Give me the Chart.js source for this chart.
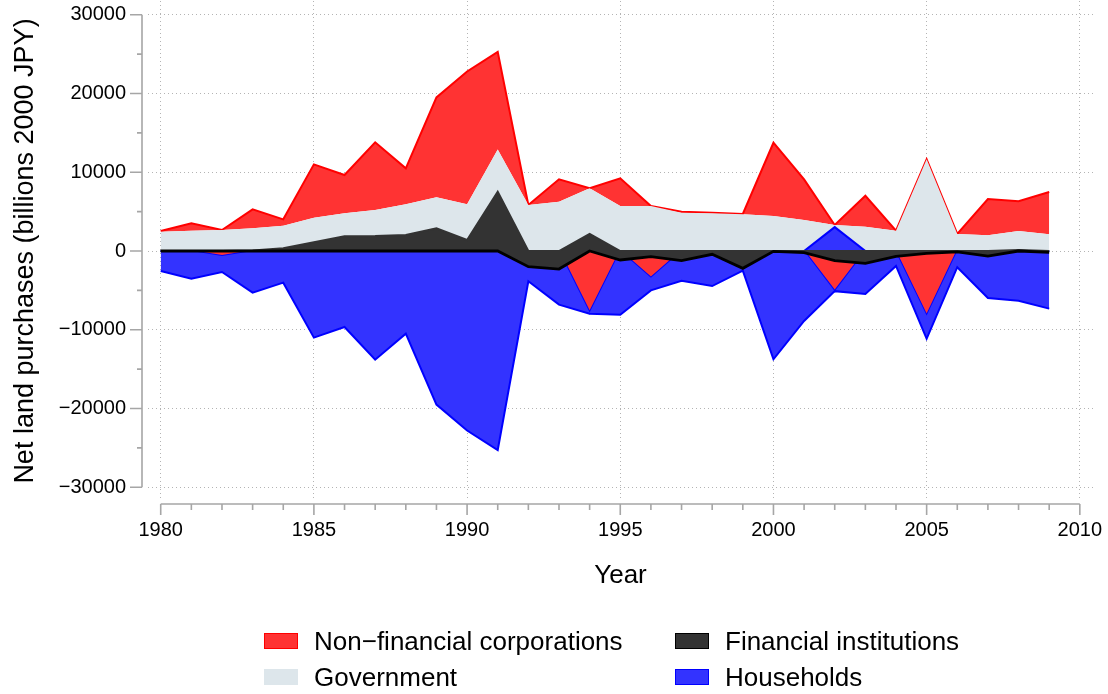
<!DOCTYPE html>
<html>
<head>
<meta charset="utf-8">
<title>Net land purchases</title>
<script src="https://cdn.jsdelivr.net/npm/chart.js@4.4.1/dist/chart.umd.min.js"></script>
<style>
  html, body { margin: 0; padding: 0; background: #fff; }
  #wrap { position: relative; width: 1108px; height: 694px; font-family: "Liberation Sans", Arial, Helvetica, sans-serif; }
  #chart { position: absolute; left: 0; top: 0; }
  .legend-item { position: absolute; display: flex; align-items: center; height: 30px; font-size: 26px; color: #000; white-space: nowrap; }
  .legend-box { box-sizing: border-box; width: 34px; height: 16px; margin-right: 16px; border: 1.5px solid; }
</style>
</head>
<body>
<div id="wrap">
  <canvas id="chart" width="1108" height="694"></canvas>
  <div id="legend"></div>
</div>
<script>
const YEARS = [
  1980, 1981, 1982, 1983, 1984, 1985, 1986, 1987, 1988, 1989,
  1990, 1991, 1992, 1993, 1994, 1995, 1996, 1997, 1998, 1999,
  2000, 2001, 2002, 2003, 2004, 2005, 2006, 2007, 2008, 2009,
];

// billions of 2000 JPY
const FINANCIAL = [
  0, 0, 0, 50, 340, 1100, 1860, 1900, 2030, 2880,
  1400, 7530, -1990, -2290, 2160, -1140, -720, -1230, -420, -2200,
  -50, -210, -1230, -1570, -680, -300, -100, -640, 130, -170,
];
const GOVERNMENT = [
  2450, 2580, 2670, 2830, 2870, 3130, 2930, 3310, 3900, 3940,
  4530, 5370, 5840, 6260, 5800, 5720, 5720, 4870, 4790, 4660,
  4450, 3940, 3300, 3090, 2580, 11650, 2160, 1990, 2410, 2120,
];
const NONFINANCIAL = [
  90, 940, -620, 2410, 810, 6770, 4860, 8590, 4570, 12680,
  16870, 12400, 0, 2840, -7800, 3510, -3400, 130, 80, 40,
  9300, 5160, -5100, 3930, -200, -8200, 0, 4610, 3770, 5370,
];
const HOUSEHOLDS = [
  -2540, -3520, -2050, -5290, -4020, -11000, -9650, -13800, -10500, -19500,
  -22800, -25300, -3850, -6810, -160, -8090, -1600, -3770, -4450, -2500,
  -13750, -8890, 3030, -5450, -1700, -2950, -2060, -5960, -6310, -7320,
];

const X_TICKS = [1980, 1985, 1990, 1995, 2000, 2005, 2010];
const Y_TICKS = [-30000, -20000, -10000, 0, 10000, 20000, 30000];

const COLORS = {
  nonfin: { fill: "#ff3333", line: "#ff0000" },
  gov: { fill: "#dde6eb", line: "#dde6eb" },
  fin: { fill: "#333333", line: "#000000" },
  hh: { fill: "#3333ff", line: "#0000ff" },
};

const LEGEND_ITEMS = [
  { label: "Non\u2212financial corporations", colors: COLORS.nonfin, left: 264, top: 626 },
  { label: "Financial institutions", colors: COLORS.fin, left: 675, top: 626 },
  { label: "Government", colors: COLORS.gov, left: 264, top: 662 },
  { label: "Households", colors: COLORS.hh, left: 675, top: 662 },
];

const FONT = '"Liberation Sans", Arial, Helvetica, sans-serif';
const AXIS_COLOR = "#a6a6a6";

// positive parts stack fin -> gov -> nonfin, negative parts stack nonfin -> households
const pos = (v) => Math.max(v, 0);
const neg = (v) => Math.min(v, 0);
const finPos = FINANCIAL.map(pos);
const finNeg = FINANCIAL.map(neg);
const govTop = GOVERNMENT.map((v, i) => finPos[i] + pos(v));
const nonfinTop = NONFINANCIAL.map((v, i) => govTop[i] + pos(v));
const nonfinNeg = NONFINANCIAL.map(neg);
const hhPos = HOUSEHOLDS.map(pos);
const hhBottom = HOUSEHOLDS.map((v, i) => nonfinNeg[i] + neg(v));

const points = (values) => YEARS.map((year, i) => ({ x: year, y: values[i] }));

function area(values, fill, colors, order, borderWidth, borderColor) {
  return {
    data: points(values),
    fill,
    order,
    backgroundColor: colors.fill,
    borderColor: borderColor || colors.line,
    borderWidth,
    pointRadius: 0,
    tension: 0,
  };
}

const datasets = [
  area(finNeg, "origin", COLORS.fin, 1, 2.8),                 // 0
  area(finPos, "origin", COLORS.fin, 1, 2, COLORS.fin.fill),  // 1
  area(hhPos, "origin", COLORS.hh, 2, 2),                     // 2
  area(hhBottom, 4, COLORS.hh, 2, 2),                         // 3
  area(nonfinNeg, "origin", COLORS.nonfin, 4, 2, COLORS.hh.line), // 4
  area(govTop, 1, COLORS.gov, 3, 0),                          // 5
  area(nonfinTop, 5, COLORS.nonfin, 4, 2),                    // 6
];

const offsetAxes = {
  id: "offsetAxes",
  afterDraw(chart) {
    const { ctx, chartArea, scales } = chart;
    const x = scales.x;
    const y = scales.y;
    const axisX = chartArea.left - 6;
    const axisY = chartArea.bottom + 3;
    ctx.save();
    ctx.strokeStyle = AXIS_COLOR;
    ctx.lineWidth = 1.6;
    ctx.beginPath();
    ctx.moveTo(axisX, y.getPixelForValue(Y_TICKS[0]));
    ctx.lineTo(axisX, y.getPixelForValue(Y_TICKS[Y_TICKS.length - 1]));
    Y_TICKS.forEach((v, i) => {
      const py = y.getPixelForValue(v);
      ctx.moveTo(axisX - 12, py);
      ctx.lineTo(axisX, py);
      if (i < Y_TICKS.length - 1) {
        const my = y.getPixelForValue((v + Y_TICKS[i + 1]) / 2);
        ctx.moveTo(axisX - 5, my);
        ctx.lineTo(axisX, my);
      }
    });
    ctx.moveTo(x.getPixelForValue(X_TICKS[0]), axisY);
    ctx.lineTo(x.getPixelForValue(X_TICKS[X_TICKS.length - 1]), axisY);
    X_TICKS.forEach((v, i) => {
      const px = x.getPixelForValue(v);
      ctx.moveTo(px, axisY);
      ctx.lineTo(px, axisY + 11);
      if (i < X_TICKS.length - 1) {
        for (let yr = v + 1; yr < X_TICKS[i + 1]; yr++) {
          const mx = x.getPixelForValue(yr);
          ctx.moveTo(mx, axisY);
          ctx.lineTo(mx, axisY + 6);
        }
      }
    });
    ctx.stroke();
    ctx.restore();
  },
};

function formatTick(value) {
  return value < 0 ? `\u2212${Math.abs(value)}` : String(value);
}

function buildLegend() {
  const legend = document.getElementById("legend");
  LEGEND_ITEMS.forEach((item) => {
    const el = document.createElement("div");
    el.className = "legend-item";
    el.style.left = `${item.left}px`;
    el.style.top = `${item.top}px`;
    const box = document.createElement("span");
    box.className = "legend-box";
    box.style.background = item.colors.fill;
    box.style.borderColor = item.colors.line;
    const text = document.createElement("span");
    text.textContent = item.label;
    el.appendChild(box);
    el.appendChild(text);
    legend.appendChild(el);
  });
}

Chart.defaults.font.family = FONT;
Chart.defaults.color = "#000";

new Chart(document.getElementById("chart"), {
  type: "line",
  data: { datasets },
  options: {
    responsive: false,
    animation: false,
    events: [],
    layout: { padding: { left: 0, top: 1, right: 15, bottom: 103 } },
    plugins: { legend: { display: false }, tooltip: { enabled: false } },
    scales: {
      x: {
        type: "linear",
        min: 1979.585,
        max: 2010.43,
        afterBuildTicks: (scale) => { scale.ticks = X_TICKS.map((value) => ({ value })); },
        afterFit: (scale) => {
          scale.height = 90;
          scale.paddingLeft = 0;
          scale.paddingRight = 0;
        },
        grid: { color: "#b4b4b4", lineWidth: 1, drawTicks: false },
        border: { display: false, dash: [1, 3] },
        ticks: { font: { size: 20 }, padding: 17, maxRotation: 0, callback: (v) => formatTick(v) },
        title: { display: true, text: "Year", font: { size: 26 }, padding: { top: 0, bottom: 0 } },
      },
      y: {
        min: -31750,
        max: 31750,
        afterBuildTicks: (scale) => { scale.ticks = Y_TICKS.map((value) => ({ value })); },
        afterFit: (scale) => {
          scale.width = 148;
          scale.paddingTop = 0;
          scale.paddingBottom = 0;
        },
        grid: { color: "#b4b4b4", lineWidth: 1, drawTicks: false },
        border: { display: false, dash: [1, 3] },
        ticks: { font: { size: 20 }, padding: 22, callback: (v) => formatTick(v) },
        title: {
          display: true,
          text: "Net land purchases (billions 2000 JPY)",
          font: { size: 27 },
          padding: { top: 9, bottom: 0 },
        },
      },
    },
  },
  plugins: [offsetAxes],
});

buildLegend();
</script>
</body>
</html>
